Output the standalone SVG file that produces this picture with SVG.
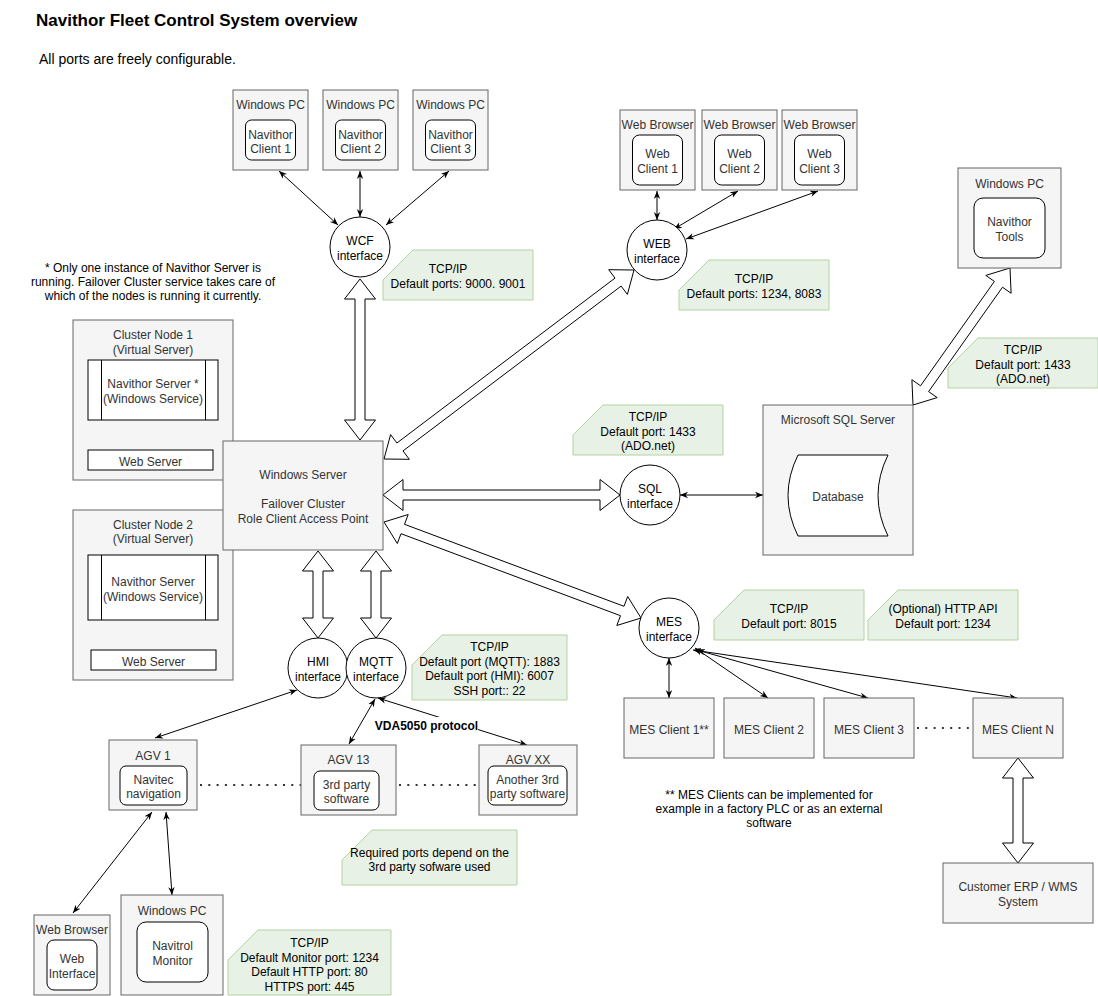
<svg xmlns="http://www.w3.org/2000/svg" width="1098" height="996" viewBox="0 0 1098 996">
<defs>
<style>
text{font-family:"Liberation Sans",Arial,Helvetica,sans-serif;font-size:12px;text-anchor:middle;dominant-baseline:central;fill:#333;transform:translateY(1.5px)}
.k{fill:#000}
.ttl{transform:none}
.box{fill:#f5f5f5;stroke:#666;stroke-width:1}
.inner{fill:#fff;stroke:#000;stroke-width:1}
.note{fill:#e7f1e5;stroke:#b3d3a0;stroke-width:1}
.circ{fill:#fff;stroke:#000;stroke-width:1}
.big{fill:#fff;stroke:#000;stroke-width:1;stroke-linejoin:miter}
.ln{stroke:#000;stroke-width:1;fill:none;marker-start:url(#ah);marker-end:url(#ah)}
.dot{stroke:#333;stroke-width:2;stroke-dasharray:2 6.3;fill:none}
</style>
<marker id="ah" viewBox="0 0 10 10" refX="10" refY="5" markerWidth="8" markerHeight="8" markerUnits="userSpaceOnUse" orient="auto-start-reverse">
<path d="M0,1 L10,5 L0,9 L3,5 z" fill="#000"/>
</marker>
</defs>
<rect x="0" y="0" width="1098" height="996" fill="#fff"/>

<g id="title">
<text x="36" y="25.5" style="text-anchor:start;dominant-baseline:auto;font-size:17px;font-weight:bold" class="k ttl">Navithor Fleet Control System overview</text>
<text x="39" y="64" style="text-anchor:start;dominant-baseline:auto;font-size:14px" class="k ttl">All ports are freely configurable.</text>
</g>

<g id="note-cluster">
<text x="153" y="266" class="k">* Only one instance of Navithor Server is</text>
<text x="153" y="280.4" class="k">running. Failover Cluster service takes care of</text>
<text x="153" y="294.8" class="k">which of the nodes is running it currently.</text>
</g>

<g id="connectors">
<polygon class="big" points="360,279 375.5,299 365,299 365,420 375.5,420 360,440 344.5,420 355,420 355,299 344.5,299"/>
<polygon class="big" points="384,459 409.3,459.3 403,450.9 621.1,286.1 627.4,294.4 634,270 608.7,269.7 615,278.1 396.9,443 390.6,434.6"/>
<polygon class="big" points="383,495 403,510.5 403,500 600,500 600,510.5 620,495 600,479.5 600,490 403,490 403,479.5"/>
<polygon class="big" points="384,522 397.3,543.5 401,533.7 620.5,615.7 616.8,625.5 641,618 627.7,596.5 624,606.3 404.5,524.3 408.2,514.5"/>
<polygon class="big" points="318,551 333.5,571 323,571 323,618 333.5,618 318,638 302.5,618 313,618 313,571 302.5,571"/>
<polygon class="big" points="376,551 391.5,571 381,571 381,618 391.5,618 376,638 360.5,618 371,618 371,571 360.5,571"/>
<polygon class="big" points="1010,268 985.8,275.4 994.4,281.4 920.5,385.8 911.9,379.7 913,405 937.2,397.6 928.6,391.6 1002.5,287.2 1011.1,293.3"/>
<polygon class="big" points="1018,758 1033.5,778 1023,778 1023,843 1033.5,843 1018,863 1002.5,843 1013,843 1013,778 1002.5,778"/>
<line class="ln" x1="279" y1="171" x2="338" y2="225"/>
<line class="ln" x1="360" y1="171" x2="360" y2="217"/>
<line class="ln" x1="449" y1="171" x2="386" y2="225"/>
<line class="ln" x1="657" y1="191" x2="657" y2="220"/>
<line class="ln" x1="738" y1="191" x2="674" y2="229"/>
<line class="ln" x1="818" y1="191" x2="686" y2="239"/>
<line class="ln" x1="152" y1="421" x2="152" y2="450"/>
<line class="ln" x1="153" y1="621" x2="153" y2="650"/>
<line class="ln" x1="680" y1="495" x2="763" y2="495"/>
<line class="ln" x1="669" y1="658" x2="669" y2="698"/>
<line class="ln" x1="695" y1="648" x2="768" y2="698"/>
<line class="ln" x1="697" y1="650" x2="868" y2="698"/>
<line class="ln" x1="693" y1="650" x2="1017" y2="698"/>
<line class="ln" x1="297" y1="690" x2="155" y2="738"/>
<line class="ln" x1="375" y1="699" x2="349" y2="744"/>
<line class="ln" x1="378" y1="698" x2="527" y2="745"/>
<line class="ln" x1="152" y1="812" x2="73" y2="913"/>
<line class="ln" x1="166" y1="812" x2="172" y2="895"/>
<line class="dot" x1="200" y1="785" x2="301" y2="785"/>
<line class="dot" x1="399" y1="785" x2="479" y2="785"/>
<line class="dot" x1="917" y1="728" x2="973" y2="728"/>
<rect x="375" y="717" width="103" height="14" fill="#fff"/>
<text x="426.5" y="724" class="k" style="font-weight:bold">VDA5050 protocol</text>
</g>

<g id="pc1">
<rect class="box" x="233" y="90" width="75" height="80"/>
<text x="270.5" y="103">Windows PC</text>
<rect class="inner" x="245.5" y="120" width="50" height="40" rx="6"/>
<text x="270.5" y="133.3">Navithor</text>
<text x="270.5" y="147.7">Client 1</text>
</g>
<g id="pc2">
<rect class="box" x="323" y="90" width="75" height="80"/>
<text x="360.5" y="103">Windows PC</text>
<rect class="inner" x="335.5" y="120" width="50" height="40" rx="6"/>
<text x="360.5" y="133.3">Navithor</text>
<text x="360.5" y="147.7">Client 2</text>
</g>
<g id="pc3">
<rect class="box" x="413" y="90" width="75" height="80"/>
<text x="450.5" y="103">Windows PC</text>
<rect class="inner" x="425.5" y="120" width="50" height="40" rx="6"/>
<text x="450.5" y="133.3">Navithor</text>
<text x="450.5" y="147.7">Client 3</text>
</g>

<g id="wcf">
<circle class="circ" cx="360" cy="247" r="30"/>
<text x="360" y="239.8" class="k">WCF</text>
<text x="360" y="254.2" class="k">interface</text>
</g>
<g id="note-wcf">
<path class="note" d="M413,250 L533,250 L533,300 L383,300 L383,280 Z"/>
<text x="448" y="267.8" class="k">TCP/IP</text>
<text x="458" y="282.2" class="k">Default ports: 9000. 9001</text>
</g>

<g id="wb1">
<rect class="box" x="620" y="110" width="75" height="80"/>
<text x="657.5" y="123">Web Browser</text>
<rect class="inner" x="632.5" y="135" width="50" height="50" rx="7"/>
<text x="657.5" y="152.8">Web</text>
<text x="657.5" y="167.2">Client 1</text>
</g>
<g id="wb2">
<rect class="box" x="702" y="110" width="75" height="80"/>
<text x="739.5" y="123">Web Browser</text>
<rect class="inner" x="714.5" y="135" width="50" height="50" rx="7"/>
<text x="739.5" y="152.8">Web</text>
<text x="739.5" y="167.2">Client 2</text>
</g>
<g id="wb3">
<rect class="box" x="782" y="110" width="75" height="80"/>
<text x="819.5" y="123">Web Browser</text>
<rect class="inner" x="794.5" y="135" width="50" height="50" rx="7"/>
<text x="819.5" y="152.8">Web</text>
<text x="819.5" y="167.2">Client 3</text>
</g>

<g id="web">
<circle class="circ" cx="657" cy="250" r="30"/>
<text x="657" y="242.8" class="k">WEB</text>
<text x="657" y="257.2" class="k">interface</text>
</g>
<g id="note-web">
<path class="note" d="M709,260 L829,260 L829,310 L679,310 L679,290 Z"/>
<text x="754" y="277.8" class="k">TCP/IP</text>
<text x="754" y="292.2" class="k">Default ports: 1234, 8083</text>
</g>

<g id="tools">
<rect class="box" x="958" y="168" width="103" height="100"/>
<text x="1009.5" y="182">Windows PC</text>
<rect class="inner" x="974" y="198" width="71" height="60" rx="9"/>
<text x="1009.5" y="220.8">Navithor</text>
<text x="1009.5" y="235.2">Tools</text>
</g>
<g id="note-tools">
<path class="note" d="M978,338 L1098,338 L1098,388 L948,388 L948,368 Z"/>
<text x="1023" y="348.6" class="k">TCP/IP</text>
<text x="1023" y="363" class="k">Default port: 1433</text>
<text x="1023" y="377.4" class="k">(ADO.net)</text>
</g>

<g id="cluster1">
<rect class="box" x="73" y="320" width="160" height="160"/>
<text x="153" y="333">Cluster Node 1</text>
<text x="153" y="348">(Virtual Server)</text>
<rect class="inner" x="88" y="360" width="130" height="60"/>
<line x1="101.5" y1="360" x2="101.5" y2="420" stroke="#000"/>
<line x1="205.5" y1="360" x2="205.5" y2="420" stroke="#000"/>
<text x="153" y="382.5">Navithor Server *</text>
<text x="153" y="397">(Windows Service)</text>
<rect class="inner" x="88" y="450" width="125" height="20"/>
<text x="150.5" y="460">Web Server</text>
</g>

<g id="cluster2">
<rect class="box" x="73" y="510" width="160" height="170"/>
<text x="153" y="523">Cluster Node 2</text>
<text x="153" y="537.5">(Virtual Server)</text>
<rect class="inner" x="88" y="555" width="130" height="65"/>
<line x1="101.5" y1="555" x2="101.5" y2="620" stroke="#000"/>
<line x1="205.5" y1="555" x2="205.5" y2="620" stroke="#000"/>
<text x="153" y="580.8">Navithor Server</text>
<text x="153" y="595.2">(Windows Service)</text>
<rect class="inner" x="91" y="650" width="125" height="20"/>
<text x="153.5" y="660">Web Server</text>
</g>

<g id="winserver">
<rect class="box" x="223" y="441" width="160" height="109"/>
<text x="303" y="473.5">Windows Server</text>
<text x="303" y="502.5">Failover Cluster</text>
<text x="303" y="517">Role Client Access Point</text>
</g>

<g id="sql">
<circle class="circ" cx="650" cy="495" r="30"/>
<text x="650" y="487.8" class="k">SQL</text>
<text x="650" y="502.2" class="k">interface</text>
</g>
<g id="note-sql">
<path class="note" d="M603,405 L723,405 L723,455 L573,455 L573,435 Z"/>
<text x="648" y="415.6" class="k">TCP/IP</text>
<text x="648" y="430" class="k">Default port: 1433</text>
<text x="648" y="444.4" class="k">(ADO.net)</text>
</g>

<g id="mssql">
<rect class="box" x="763" y="405" width="150" height="150"/>
<text x="838" y="418.5">Microsoft SQL Server</text>
<path class="inner" d="M798,455 L888,455 Q868,495.5 888,536 L798,536 Q778,495.5 798,455 Z"/>
<text x="838" y="495">Database</text>
</g>

<g id="mes">
<circle class="circ" cx="669" cy="628" r="30"/>
<text x="669" y="620.8" class="k">MES</text>
<text x="669" y="635.2" class="k">interface</text>
</g>
<g id="note-mes">
<path class="note" d="M744,590 L864,590 L864,640 L714,640 L714,620 Z"/>
<text x="789" y="607.8" class="k">TCP/IP</text>
<text x="789" y="622.2" class="k">Default port: 8015</text>
</g>
<g id="note-http">
<path class="note" d="M898,590 L1018,590 L1018,640 L868,640 L868,620 Z"/>
<text x="943" y="607.8" class="k">(Optional) HTTP API</text>
<text x="943" y="622.2" class="k">Default port: 1234</text>
</g>

<g id="mes1">
<rect class="box" x="624" y="698" width="90" height="60"/>
<text x="669" y="728">MES Client 1**</text>
</g>
<g id="mes2">
<rect class="box" x="724" y="698" width="90" height="60"/>
<text x="769" y="728">MES Client 2</text>
</g>
<g id="mes3">
<rect class="box" x="824" y="698" width="90" height="60"/>
<text x="869" y="728">MES Client 3</text>
</g>
<g id="mesN">
<rect class="box" x="973" y="698" width="90" height="60"/>
<text x="1018" y="728">MES Client N</text>
</g>

<g id="note-mes-clients">
<text x="769" y="793" class="k">** MES Clients can be implemented for</text>
<text x="769" y="807.4" class="k">example in a factory PLC or as an external</text>
<text x="769" y="821.8" class="k">software</text>
</g>

<g id="erp">
<rect class="box" x="943" y="863" width="150" height="60"/>
<text x="1018" y="885.8">Customer ERP / WMS</text>
<text x="1018" y="900.2">System</text>
</g>

<g id="hmi">
<circle class="circ" cx="318" cy="668" r="30"/>
<text x="318" y="660.8" class="k">HMI</text>
<text x="318" y="675.2" class="k">interface</text>
</g>
<g id="mqtt">
<circle class="circ" cx="376" cy="668" r="30"/>
<text x="376" y="660.8" class="k">MQTT</text>
<text x="376" y="675.2" class="k">interface</text>
</g>
<g id="note-mqtt">
<path class="note" d="M442,635 L567,635 L567,700 L412,700 L412,665 Z"/>
<text x="489.5" y="645.9" class="k">TCP/IP</text>
<text x="489.5" y="660.3" class="k">Default port (MQTT): 1883</text>
<text x="489.5" y="674.7" class="k">Default port (HMI): 6007</text>
<text x="489.5" y="689.1" class="k">SSH port:: 22</text>
</g>

<g id="agv1">
<rect class="box" x="109" y="740" width="88" height="70"/>
<text x="153" y="754">AGV 1</text>
<rect class="inner" x="120" y="766" width="67" height="39" rx="6"/>
<text x="153.5" y="778.3">Navitec</text>
<text x="153.5" y="792.7">navigation</text>
</g>
<g id="agv13">
<rect class="box" x="301" y="745" width="95" height="70"/>
<text x="348.5" y="758.5">AGV 13</text>
<rect class="inner" x="314" y="771" width="65" height="39" rx="6"/>
<text x="346.5" y="783.3">3rd party</text>
<text x="346.5" y="797.7">software</text>
</g>
<g id="agvxx">
<rect class="box" x="479" y="745" width="98" height="70"/>
<text x="528" y="758.5">AGV XX</text>
<rect class="inner" x="488" y="766" width="79" height="39" rx="6"/>
<text x="527.5" y="778.3">Another 3rd</text>
<text x="527.5" y="792.7">party software</text>
</g>
<g id="note-3rd">
<path class="note" d="M372,830 L517,830 L517,885 L342,885 L342,860 Z"/>
<text x="429.5" y="851" class="k">Required ports depend on the</text>
<text x="429.5" y="865.4" class="k">3rd party sofware used</text>
</g>

<g id="wb-bottom">
<rect class="box" x="34" y="915" width="76" height="80"/>
<text x="72" y="928">Web Browser</text>
<rect class="inner" x="47" y="940" width="50" height="50" rx="7"/>
<text x="72" y="957.8">Web</text>
<text x="72" y="972.2">Interface</text>
</g>
<g id="pc-monitor">
<rect class="box" x="121" y="895" width="102" height="100"/>
<text x="172" y="909">Windows PC</text>
<rect class="inner" x="137" y="922" width="71" height="60" rx="9"/>
<text x="172.5" y="944.8">Navitrol</text>
<text x="172.5" y="959.2">Monitor</text>
</g>
<g id="note-monitor">
<path class="note" d="M258,930 L391,930 L391,995 L228,995 L228,960 Z"/>
<text x="309.5" y="941.9" class="k">TCP/IP</text>
<text x="309.5" y="956.3" class="k">Default Monitor port: 1234</text>
<text x="309.5" y="970.7" class="k">Default HTTP port: 80</text>
<text x="309.5" y="985.1" class="k">HTTPS port: 445</text>
</g>
</svg>
